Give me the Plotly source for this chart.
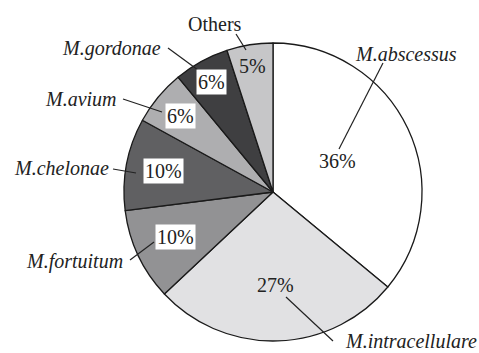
import math
import plotly.graph_objects as go

W, H = 479, 353

species = ["M.abscessus", "M.intracellulare", "M.fortuitum", "M.chelonae",
           "M.avium", "M.gordonae", "Others"]
percent = [36, 27, 10, 10, 6, 6, 5]
pct_labels = ["36%", "27%", "10%", "10%", "6%", "6%", "5%"]

colors = ["#ffffff", "#e1e1e3", "#929294", "#606062", "#aeaeb0", "#3f3f41", "#c6c6c8"]
boxed = [False, False, True, True, True, True, False]
pct_rfrac = [0.49, 0.63, 0.72, 0.75, 0.81, 0.85, 0.86]
pct_w = [38, 38, 40, 40, 29, 29, 29]
italic = [True, True, True, True, True, True, False]

# name label centres and widths (pixels) and leader lines (pixels)
name_pos = [(405, 53), (407, 341), (76, 262), (62, 168), (82, 99), (113, 48), (215, 23)]
name_w = [108, 144, 105, 101, 78, 106, 56]
leaders = [((383, 63), (339, 149)),
           ((286, 297), (333, 341)),
           ((130, 260), (154, 242)),
           ((113, 169), (136, 173)),
           ((123, 99), (162, 112)),
           ((168, 48), (198, 70)),
           ((236, 34), (246, 50))]

HH = 12.5  # half text-box height in px

cx, cy, R = 273, 192, 149


def px(x):
    return x / W


def py(y):
    return 1 - y / H


def place(xc, yc, hw, hh=HH):
    """paper coords so that plotly's auto-anchored text is centred at (xc, yc) px"""
    # x: left anchor if x<=1/3, right if x>=2/3, else center
    xp = px(xc)
    if not (1 / 3 < xp < 2 / 3):
        xl = px(xc - hw)
        xr = px(xc + hw)
        if xl <= 1 / 3:
            xp = xl
        elif xr >= 2 / 3:
            xp = xr
    # y: bottom anchor if y<=1/3, top if y>=2/3, else middle
    yp = py(yc)
    if not (1 / 3 < yp < 2 / 3):
        yb = py(yc + hh)
        yt = py(yc - hh)
        if yb <= 1 / 3:
            yp = yb
        elif yt >= 2 / 3:
            yp = yt
    return xp, yp


fig = go.Figure(go.Pie(
    labels=species,
    values=percent,
    sort=False,
    direction="clockwise",
    rotation=0,
    textinfo="none",
    marker=dict(colors=colors, line=dict(color="#1a1a1a", width=1.3)),
    domain=dict(x=[px(cx - R), px(cx + R)], y=[py(cy + R), py(cy - R)]),
    showlegend=False,
))

total = sum(percent)
cum = 0
for i, v in enumerate(percent):
    mid = (cum + v / 2) / total * 2 * math.pi
    cum += v
    r = pct_rfrac[i] * R
    x = cx + r * math.sin(mid)
    y = cy - r * math.cos(mid)
    (x0, y0), (x1, y1) = leaders[i]
    fig.add_shape(type="line", xref="paper", yref="paper",
                  x0=px(x0), y0=py(y0), x1=px(x1), y1=py(y1),
                  line=dict(color="#222", width=1.2))
    ax_, ay_ = place(x, y, pct_w[i] / 2)
    if boxed[i]:
        fig.add_annotation(x=ax_, y=ay_, xref="paper", yref="paper", text=pct_labels[i],
                           showarrow=False,
                           font=dict(family="Liberation Serif", size=20, color="#222"),
                           bgcolor="#ffffff", borderpad=1)
    else:
        fig.add_annotation(x=ax_, y=ay_, xref="paper", yref="paper", text=pct_labels[i],
                           showarrow=False,
                           font=dict(family="Liberation Serif", size=20, color="#222"))
    nx, ny = name_pos[i]
    txt = f"<i>{species[i]}</i>" if italic[i] else species[i]
    bx, by = place(nx, ny, name_w[i] / 2)
    fig.add_annotation(x=bx, y=by, xref="paper", yref="paper", text=txt,
                       showarrow=False,
                       font=dict(family="Liberation Serif", size=20, color="#222"))

fig.update_layout(
    width=W, height=H,
    margin=dict(l=0, r=0, t=0, b=0),
    font=dict(family="Liberation Serif"),
    paper_bgcolor="white",
)

fig.write_html("out.html")
